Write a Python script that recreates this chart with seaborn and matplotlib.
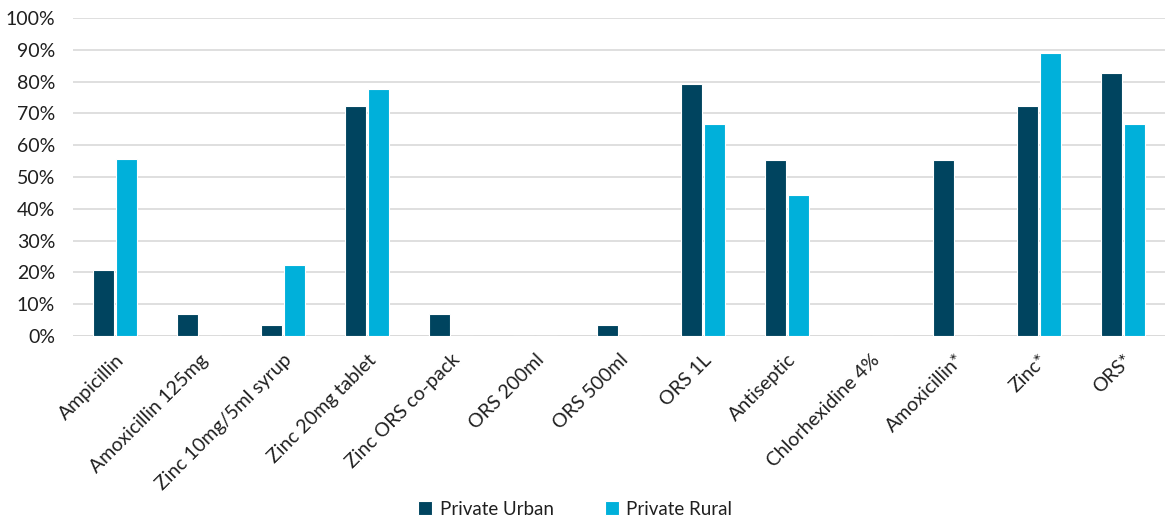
import pandas as pd
import matplotlib.pyplot as plt
import seaborn as sns
from matplotlib.ticker import PercentFormatter

# data (percent of outlets)
products = ["Ampicillin", "Amoxicillin 125mg", "Zinc 10mg/5ml syrup", "Zinc 20mg tablet",
            "Zinc ORS co-pack", "ORS 200ml", "ORS 500ml", "ORS 1L", "Antiseptic",
            "Chlorhexidine 4%", "Amoxicillin*", "Zinc*", "ORS*"]
private_urban = [20.7, 6.9, 3.4, 72.4, 6.9, 0, 3.4, 79.3, 55.2, 0, 55.2, 72.4, 82.8]
private_rural = [55.6, 0, 22.2, 77.8, 0, 0, 0, 66.7, 44.4, 0, 0, 88.9, 66.7]
series = ["Private Urban", "Private Rural"]
colors = ["#00445F", "#00B0DA"]

df = pd.DataFrame({"product": products * 2,
                   "value": private_urban + private_rural,
                   "series": [series[0]] * len(products) + [series[1]] * len(products)})

sns.set_style("white")
plt.rcParams["font.family"] = ["Lato", "DejaVu Sans"]

fig = plt.figure(figsize=(11.69, 5.19), dpi=100)
ax = fig.add_axes([0.0625, 0.3526, 0.934, 0.6127])

sns.barplot(data=df, x="product", y="value", hue="series", palette=colors, saturation=1,
            width=0.56, gap=0.1, edgecolor="white", linewidth=0.8, ax=ax)

ax.set_ylim(0, 100)
ax.set_yticks(range(0, 101, 10))
ax.yaxis.set_major_formatter(PercentFormatter(decimals=0))
ax.grid(axis="y", color="#D9D9D9", linewidth=1.2)
ax.set_axisbelow(True)
for s in ax.spines.values():
    s.set_visible(False)
ax.axhline(0, color="#D9D9D9", linewidth=1.2, zorder=0)
ax.set_xlim(-0.5, len(products) - 0.5)
ax.set_xlabel("")
ax.set_ylabel("")
ax.tick_params(axis="both", length=0, labelsize=14, colors="#1F1F1F")
ax.tick_params(axis="y", pad=13)
ax.tick_params(axis="x", pad=11)
plt.setp(ax.get_xticklabels(), rotation=45, ha="right", rotation_mode="anchor")

ax.legend(loc="lower center", bbox_to_anchor=(0.46, -0.625), ncol=2, frameon=False,
          fontsize=13.5, handlelength=0.75, handleheight=0.75, columnspacing=2.7,
          handletextpad=0.4, labelcolor="#1F1F1F")

fig.savefig("out.png", dpi=100)
